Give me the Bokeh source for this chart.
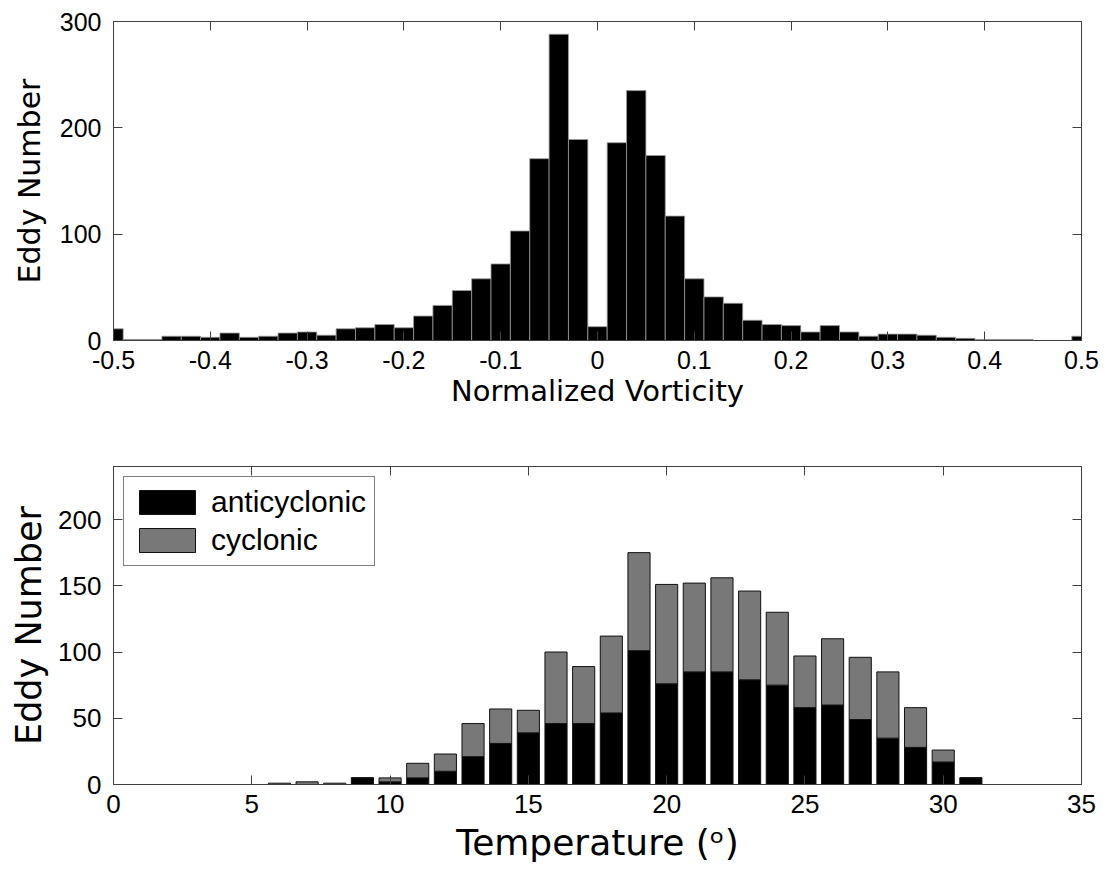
from bokeh.plotting import figure
from bokeh.models import (LinearAxis, FixedTicker, Range1d, ColumnDataSource,
                          CustomLabelingPolicy)
from bokeh.layouts import column
from bokeh.embed import file_html
from bokeh.resources import INLINE

# ---------------- data: top histogram ----------------
vort_centers = [-0.50, -0.48, -0.46, -0.44, -0.42, -0.40, -0.38, -0.36, -0.34, -0.32,
                -0.30, -0.28, -0.26, -0.24, -0.22, -0.20, -0.18, -0.16, -0.14, -0.12,
                -0.10, -0.08, -0.06, -0.04, -0.02, 0.00, 0.02, 0.04, 0.06, 0.08,
                0.10, 0.12, 0.14, 0.16, 0.18, 0.20, 0.22, 0.24, 0.26, 0.28,
                0.30, 0.32, 0.34, 0.36, 0.38, 0.40, 0.42, 0.44, 0.46, 0.48, 0.50]
vort_counts = [11, 1, 1, 4, 4, 3, 7, 3, 4, 7,
               8, 5, 11, 12, 15, 12, 23, 33, 47, 58,
               72, 103, 171, 288, 189, 13, 186, 235, 174, 117,
               58, 41, 35, 19, 15, 14, 8, 14, 8, 4,
               6, 6, 5, 3, 2, 1, 1, 1, 0, 0, 4]
vort_xticks = [-0.5, -0.4, -0.3, -0.2, -0.1, 0, 0.1, 0.2, 0.3, 0.4, 0.5]
vort_xtick_labels = ["-0.5", "-0.4", "-0.3", "-0.2", "-0.1", "0", "0.1", "0.2", "0.3", "0.4", "0.5"]
vort_yticks = [0, 100, 200, 300]

# ---------------- data: bottom stacked bars ----------------
temps = [6, 7, 8, 9, 10, 11, 12, 13, 14, 15, 16, 17, 18, 19, 20,
         21, 22, 23, 24, 25, 26, 27, 28, 29, 30, 31]
anticyclonic = [0, 0, 0, 5, 2, 5, 10, 21, 31, 39, 46, 46, 54, 101, 76,
                85, 85, 79, 75, 58, 60, 49, 35, 28, 17, 5]
cyclonic = [1, 2, 1, 0, 3, 11, 13, 25, 26, 17, 54, 43, 58, 74, 75,
            67, 71, 67, 55, 39, 50, 47, 50, 30, 9, 0]
temp_xticks = [0, 5, 10, 15, 20, 25, 30, 35]
temp_yticks = [0, 50, 100, 150, 200]

AXIS_COLOR = "#404040"
TICK_FONT = "Liberation Sans"
LABEL_FONT = "DejaVu Sans"


def style_axis(ax, ticks, tick_size, label_size, overrides=None, show_labels=True,
               label_standoff=12, axis_label_standoff=4):
    ax.ticker = FixedTicker(ticks=ticks)
    ax.major_tick_in = 9
    ax.major_tick_out = 0
    ax.minor_tick_line_color = None
    ax.major_tick_line_color = AXIS_COLOR
    ax.axis_line_color = AXIS_COLOR
    ax.major_label_text_font = TICK_FONT
    ax.major_label_text_color = "black"
    ax.axis_label_text_font = LABEL_FONT
    ax.axis_label_text_font_style = "normal"
    ax.axis_label_text_font_size = label_size
    ax.axis_label_text_color = "black"
    ax.axis_label_standoff = axis_label_standoff
    ax.major_label_standoff = label_standoff
    if show_labels:
        ax.major_label_text_font_size = tick_size
        if overrides:
            ax.major_label_overrides = overrides
    else:
        # mirror axis: ticks only, no labels drawn at all
        ax.major_label_text_font_size = "0px"
        ax.major_label_standoff = 0
        ax.major_label_policy = CustomLabelingPolicy(code="return new Set()")


# ---------------- top figure ----------------
p1 = figure(width=1105, height=420, output_backend="svg", toolbar_location=None,
            x_range=Range1d(-0.5, 0.5), y_range=Range1d(0, 300),
            min_border_left=113, min_border_right=24, min_border_top=21, min_border_bottom=80)
p1.xgrid.visible = False
p1.ygrid.visible = False
p1.outline_line_color = AXIS_COLOR

src1 = ColumnDataSource(dict(x=vort_centers, n=vort_counts))
p1.vbar(x="x", top="n", width=0.02, bottom=0, source=src1,
        fill_color="black", line_color="#9a9a9a", line_width=0.8)

p1.xaxis.axis_label = "Normalized Vorticity"
p1.yaxis.axis_label = "Eddy Number"
style_axis(p1.xaxis[0], vort_xticks, "25px", "29px",
           overrides={t: l for t, l in zip(vort_xticks, vort_xtick_labels)},
           label_standoff=10, axis_label_standoff=2)
style_axis(p1.yaxis[0], vort_yticks, "25px", "30px", label_standoff=12, axis_label_standoff=10)
ax_top1 = LinearAxis()
style_axis(ax_top1, vort_xticks, "0px", "0px", show_labels=False)
p1.add_layout(ax_top1, "above")
ax_right1 = LinearAxis()
style_axis(ax_right1, vort_yticks, "0px", "0px", show_labels=False)
p1.add_layout(ax_right1, "right")

# ---------------- bottom figure ----------------
p2 = figure(width=1105, height=455, output_backend="svg", toolbar_location=None,
            x_range=Range1d(0, 35), y_range=Range1d(0, 240),
            min_border_left=113, min_border_right=24, min_border_top=46, min_border_bottom=91)
p2.xgrid.visible = False
p2.ygrid.visible = False
p2.outline_line_color = AXIS_COLOR

src2 = ColumnDataSource(dict(T=temps, anti=anticyclonic, cyc=cyclonic))
p2.vbar_stack(["anti", "cyc"], x="T", width=0.8, source=src2,
              fill_color=["#000000", "#787878"], line_color="#111111", line_width=1,
              legend_label=["anticyclonic", "cyclonic"])

p2.xaxis.axis_label = "Temperature (ᵒ)"
p2.yaxis.axis_label = "Eddy Number"
style_axis(p2.xaxis[0], temp_xticks, "26px", "36px", label_standoff=10, axis_label_standoff=6)
style_axis(p2.yaxis[0], temp_yticks, "26px", "35px", label_standoff=12, axis_label_standoff=6)
ax_top2 = LinearAxis()
style_axis(ax_top2, temp_xticks, "0px", "0px", show_labels=False)
p2.add_layout(ax_top2, "above")
ax_right2 = LinearAxis()
style_axis(ax_right2, temp_yticks, "0px", "0px", show_labels=False)
p2.add_layout(ax_right2, "right")

lg = p2.legend[0]
lg.location = "top_left"
lg.border_line_color = "black"
lg.border_line_width = 1
lg.background_fill_color = "white"
lg.background_fill_alpha = 1.0
lg.label_text_font = TICK_FONT
lg.label_text_font_size = "30px"
lg.label_text_color = "black"
lg.glyph_width = 70
lg.glyph_height = 30
lg.label_standoff = 9
lg.padding = 8
lg.spacing = 4
lg.margin = 10

layout = column(p1, p2)
open("out.html", "w").write(file_html(layout, INLINE))
